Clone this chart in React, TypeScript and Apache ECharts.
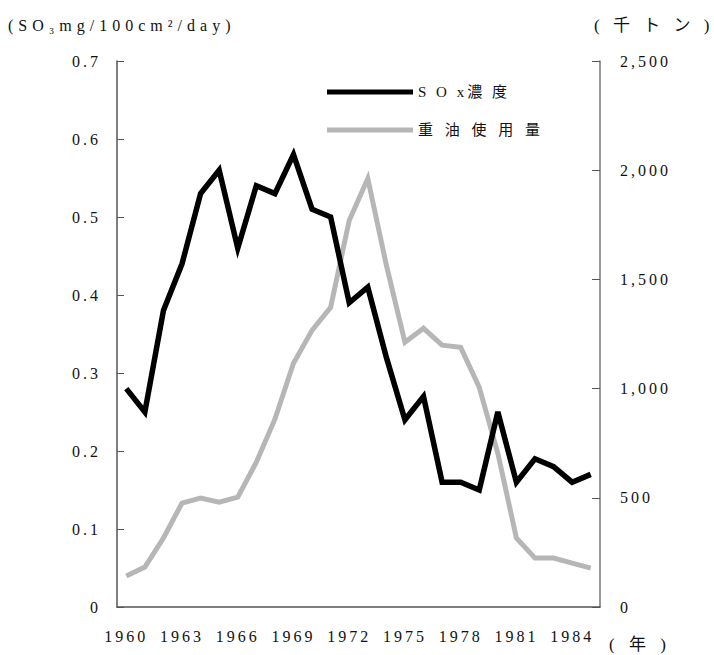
import React, { useEffect, useRef } from "react";
import * as echarts from "echarts";

const years = [
  "1960", "1961", "1962", "1963", "1964", "1965", "1966", "1967", "1968", "1969",
  "1970", "1971", "1972", "1973", "1974", "1975", "1976", "1977", "1978", "1979",
  "1980", "1981", "1982", "1983", "1984", "1985",
];
const soxValues = [
  0.28, 0.25, 0.38, 0.44, 0.53, 0.56, 0.46, 0.54, 0.53, 0.58,
  0.51, 0.5, 0.39, 0.41, 0.32, 0.24, 0.27, 0.16, 0.16, 0.15,
  0.25, 0.16, 0.19, 0.18, 0.16, 0.17,
];
const oilValues = [
  142, 183, 316, 476, 499, 480, 503, 663, 860, 1116,
  1267, 1372, 1770, 1962, 1565, 1212, 1276, 1199, 1189, 1006,
  704, 316, 224, 224, 201, 178,
];
const seriesNames = ["SOx濃度", "重油使用量"];
const legendLabels: Record<string, string> = {
  "SOx濃度": "S O x濃 度",
  "重油使用量": "重 油 使 用 量",
};
const leftTitle = "(SO₃mg/100cm²/day)";
const rightTitle = "( 千 ト ン )";
const xTitle = "( 年 )";

const SERIF = "'Liberation Serif', 'Times New Roman', serif";
const MIXED = "'Liberation Serif', 'Noto Sans CJK JP', serif";
const AXIS_COLOR = "#555";

function spacingFor(t: string): number {
  if (/^[\d.,]+$/.test(t)) return 3;
  if (t === leftTitle) return 5;
  if (t === rightTitle) return 4.5;
  if (t === xTitle) return 5;
  if (t === legendLabels["SOx濃度"]) return 3;
  if (t === legendLabels["重油使用量"]) return 4;
  return 0;
}

export default function App() {
  const ref = useRef<HTMLDivElement>(null);
  useEffect(() => {
    if (!ref.current) return;
    const el = ref.current;
    const chart = echarts.init(el, undefined, { renderer: "svg" });
    const applySpacing = () => {
      el.querySelectorAll("text").forEach((node) => {
        const ls = spacingFor((node.textContent || "").trim());
        if (ls) node.setAttribute("letter-spacing", String(ls));
      });
    };
    chart.on("finished", applySpacing);
    chart.setOption({
      animation: false,
      backgroundColor: "#fff",
      grid: { left: 117, right: 114, top: 61, bottom: 48 },
      legend: {
        orient: "vertical",
        left: 327,
        top: 83,
        padding: 0,
        icon: "rect",
        itemWidth: 86,
        itemHeight: 5,
        itemGap: 20,
        data: seriesNames,
        formatter: (n: string) => legendLabels[n] || n,
        textStyle: { fontFamily: MIXED, fontSize: 15, lineHeight: 18, color: "#111" },
      },
      xAxis: {
        type: "category",
        data: years,
        boundaryGap: true,
        axisLine: { lineStyle: { color: AXIS_COLOR, width: 1.5 } },
        axisTick: { inside: true, length: 6, interval: 0, lineStyle: { color: AXIS_COLOR } },
        axisLabel: {
          interval: 2,
          margin: 21,
          fontFamily: SERIF,
          fontSize: 16,
          color: "#111",
        },
      },
      yAxis: [
        {
          type: "value",
          min: 0,
          max: 0.7,
          interval: 0.1,
          position: "left",
          splitLine: { show: false },
          axisLine: { show: true, lineStyle: { color: AXIS_COLOR, width: 1.5 } },
          axisTick: { show: true, inside: true, length: 7, lineStyle: { color: AXIS_COLOR } },
          axisLabel: {
            margin: 16,
            fontFamily: SERIF,
            fontSize: 16,
            color: "#111",
            formatter: (v: number) => (v === 0 ? "0" : v.toFixed(1)),
          },
        },
        {
          type: "value",
          min: 0,
          max: 2500,
          interval: 500,
          position: "right",
          splitLine: { show: false },
          axisLine: { show: true, lineStyle: { color: "#777", width: 1.5 } },
          axisTick: { show: true, inside: true, length: 8, lineStyle: { color: AXIS_COLOR } },
          axisLabel: {
            margin: 20,
            fontFamily: SERIF,
            fontSize: 16,
            color: "#111",
            formatter: (v: number) => v.toLocaleString("en-US"),
          },
        },
      ],
      series: [
        {
          name: seriesNames[0],
          type: "line",
          yAxisIndex: 0,
          data: soxValues,
          symbol: "none",
          lineStyle: { color: "#000", width: 5.5, join: "miter" },
          itemStyle: { color: "#000" },
          z: 3,
        },
        {
          name: seriesNames[1],
          type: "line",
          yAxisIndex: 1,
          data: oilValues,
          symbol: "none",
          lineStyle: { color: "#b6b6b6", width: 5, join: "miter" },
          itemStyle: { color: "#b6b6b6" },
          z: 2,
        },
      ],
      graphic: [
        {
          type: "text",
          left: 8,
          top: 17,
          style: { text: leftTitle, fontFamily: SERIF, fontSize: 16, fill: "#111" },
        },
        {
          type: "text",
          left: 594,
          top: 17,
          style: { text: rightTitle, fontFamily: MIXED, fontSize: 17, fill: "#111" },
        },
        {
          type: "text",
          left: 609,
          top: 636,
          style: { text: xTitle, fontFamily: MIXED, fontSize: 17, fill: "#111" },
        },
      ],
    });
    applySpacing();
    return () => chart.dispose();
  }, []);
  return <div ref={ref} style={{ width: 714, height: 655, position: "absolute", left: 0, top: 0 }} />;
}
